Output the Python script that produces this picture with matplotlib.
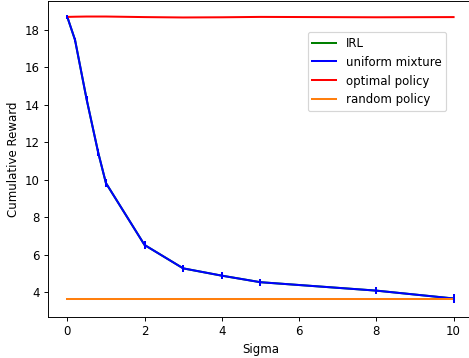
import matplotlib
matplotlib.use('Agg')
import matplotlib.pyplot as plt

# sigma values and cumulative rewards
sigmas = [0, 0.2, 0.5, 0.8, 1, 2, 3, 4, 5, 8, 10]
irl = [18.7, 17.47, 14.3, 11.45, 9.82, 6.51, 5.26, 4.87, 4.52, 4.07, 3.65]
irl_err = [0.1, 0.12, 0.15, 0.2, 0.2, 0.2, 0.18, 0.18, 0.18, 0.18, 0.22]
uniform = [18.7, 17.47, 14.3, 11.45, 9.82, 6.51, 5.26, 4.87, 4.52, 4.07, 3.65]
uniform_err = [0.1, 0.12, 0.15, 0.2, 0.2, 0.2, 0.18, 0.18, 0.18, 0.18, 0.22]
optimal = [18.7, 18.71, 18.72, 18.72, 18.72, 18.69, 18.67, 18.68, 18.7, 18.68, 18.69]
random_policy = [3.62] * len(sigmas)

DPI = 85
fig = plt.figure(figsize=(469 / DPI, 358 / DPI), dpi=DPI)
ax = fig.add_axes([0.1023, 0.1145, 0.906, 0.8827])

# lines first, so the legend keeps this order
ax.plot(sigmas, irl, c='green', lw=1.7, label='IRL')
ax.plot(sigmas, uniform, c='blue', lw=1.7, label='uniform mixture')
ax.plot(sigmas, optimal, c='red', lw=1.7, label='optimal policy')
ax.plot(sigmas, random_policy, c='tab:orange', lw=1.7, label='random policy')
ax.errorbar(sigmas, irl, yerr=irl_err, fmt='none', ecolor='green', elinewidth=1.7)
ax.errorbar(sigmas, uniform, yerr=uniform_err, fmt='none', ecolor='blue', elinewidth=1.7)

ax.set_xlim(-0.5, 10.5)
ax.set_ylim(2.66, 19.55)
ax.set_xlabel('Sigma')
ax.set_ylabel('Cumulative Reward')
ax.legend(loc='upper right', bbox_to_anchor=(0.951, 0.9106),
          bbox_transform=fig.transFigure, borderaxespad=0)

plt.savefig('out.png', dpi=DPI)
